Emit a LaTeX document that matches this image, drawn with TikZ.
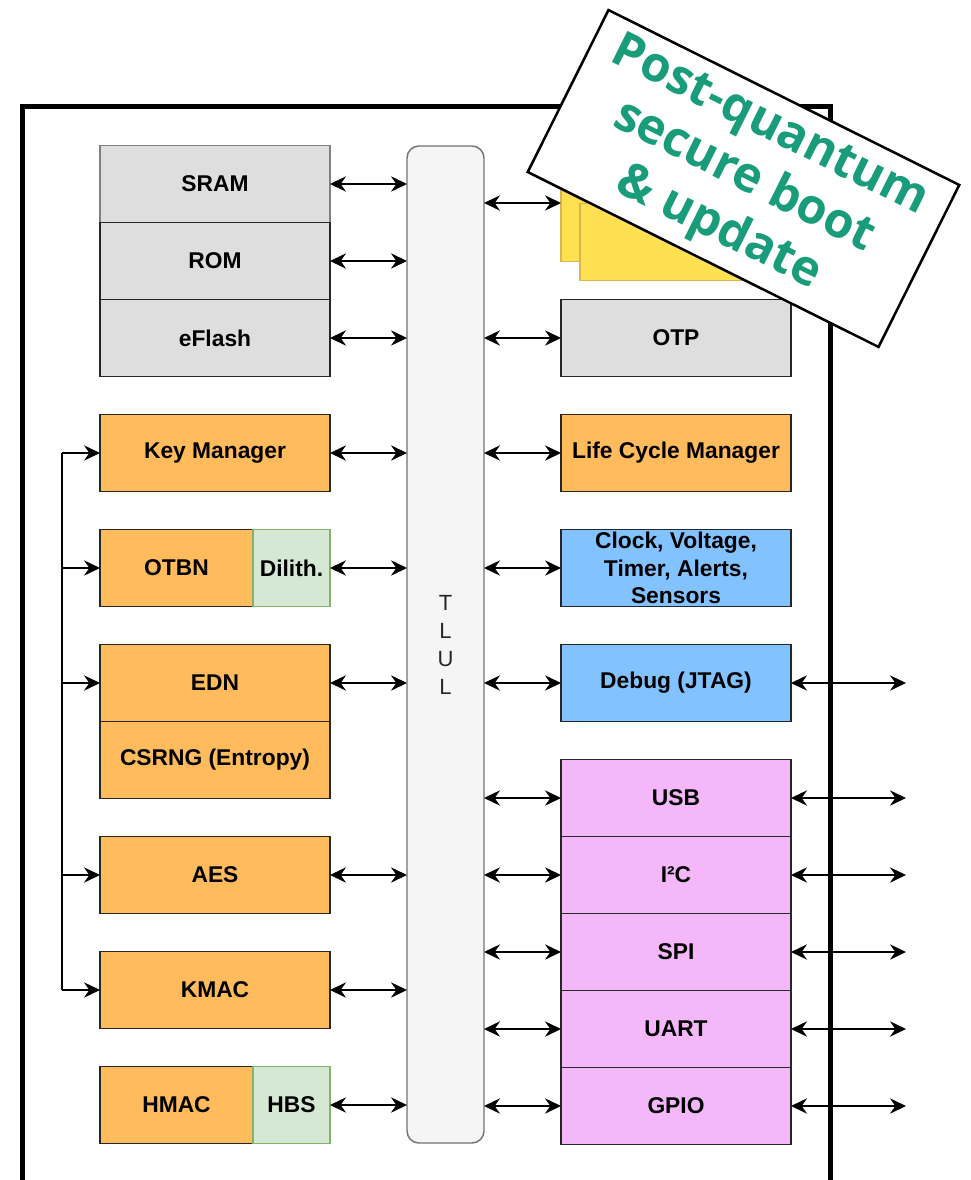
\documentclass[tikz,border=0pt]{standalone}
\usepackage{fontspec}
\setmainfont{Liberation Sans}
\newfontfamily\pqfont{Open Sans}
\usetikzlibrary{positioning,arrows.meta}
\definecolor{memgray}{RGB}{222,222,222}
\definecolor{iporange}{RGB}{255,187,92}
\definecolor{pqcgreen}{RGB}{213,232,212}
\definecolor{pqcedge}{RGB}{130,179,102}
\definecolor{sysblue}{RGB}{130,195,255}
\definecolor{periphpink}{RGB}{244,184,250}
\definecolor{imgyellow}{RGB}{255,224,80}
\definecolor{imgedge}{RGB}{214,182,86}
\definecolor{pqteal}{RGB}{24,156,122}
\tikzset{
    >={Stealth[length=12pt,width=11.5pt,inset=4pt]},
    block/.style = {draw=black!85, line width=1.1pt, minimum width=172.5pt,
        minimum height=57.75pt, inner sep=2pt, outer sep=0pt, align=center,
        font=\fontsize{17.1}{20.6}\selectfont\bfseries},
    mem/.style = {block, fill=memgray},
    ip/.style = {block, fill=iporange},
    half/.style = {minimum width=114.75pt},
    pqc/.style = {block, fill=pqcgreen, draw=pqcedge, minimum width=57.75pt},
    sys/.style = {block, fill=sysblue},
    periph/.style = {block, fill=periphpink},
    fwimg/.style = {block, fill=imgyellow, draw=imgedge},
    tlbus/.style = {draw=black!55, fill=black!4, line width=1.1pt, rounded corners=9pt,
        minimum width=57.75pt, minimum height=747.75pt, outer sep=0pt, align=center,
        text=black!85, font=\fontsize{16.5}{21}\selectfont},
    link/.style = {<->, line width=1.1pt},
    chip/.style = {line width=3.75pt},
    pqlabel/.style = {draw, fill=white, line width=1.9pt, minimum width=294pt,
        minimum height=135.75pt, inner sep=0pt, text=pqteal,
        font=\pqfont\bfseries\fontsize{36.5}{42.75}\selectfont},
}
\newcommand{\gap}{28.5pt}

\begin{document}
\begin{tikzpicture}[x=0.75pt, y=-0.75pt]
    \useasboundingbox (0,0) rectangle (970,1180);

    \draw[chip] (22,107) rectangle (830,1183);

    % TileLink bus
    \node[tlbus] (tlul) at (445.5,644.5) {T\\L\\U\\L};

    % left column
    \node[mem, draw=black!50] (sram) at (215,184) {SRAM};
    \node[mem, below=0pt of sram] (rom) {ROM};
    \node[mem, below=0pt of rom] (eflash) {eFlash};
    \node[ip, below=\gap of eflash] (keymgr) {Key Manager};
    \node[ip, half, below=\gap of keymgr.south west, anchor=north west] (otbn) {OTBN};
    \node[pqc, right=0pt of otbn] (dilith) {Dilith.};
    \node[ip, below=\gap of otbn.south west, anchor=north west] (edn) {EDN};
    \node[ip, below=0pt of edn] (csrng) {CSRNG (Entropy)};
    \node[ip, below=\gap of csrng] (aes) {AES};
    \node[ip, below=\gap of aes] (kmac) {KMAC};
    \node[ip, half, below=\gap of kmac.south west, anchor=north west] (hmac) {HMAC};
    \node[pqc, right=0pt of hmac] (hbs) {HBS};

    % right column
    \node[mem] (otp) at (676,338) {OTP};
    \node[fwimg, above=\gap of otp] (fwback) {};
    \node[fwimg] (fwfront) at ([shift={(19,19)}]fwback) {};
    \node[ip, below=\gap of otp] (lcm) {Life Cycle Manager};
    \node[sys, below=\gap of lcm, inner ysep=0pt] (clk) {Clock, Voltage,\\Timer, Alerts,\\Sensors};
    \node[sys, below=\gap of clk] (debug) {Debug (JTAG)};
    \node[periph, below=\gap of debug] (usb) {USB};
    \node[periph, below=0pt of usb] (i2c) {I²C};
    \node[periph, below=0pt of i2c] (spi) {SPI};
    \node[periph, below=0pt of spi] (uart) {UART};
    \node[periph, below=0pt of uart] (gpio) {GPIO};

    % bus connections
    \foreach \n in {sram,rom,eflash,keymgr,dilith,edn,aes,kmac,hbs}
        \draw[link] (\n.east) -- (\n.east -| tlul.west);
    \foreach \n in {otp,lcm,clk,debug,usb,i2c,spi,uart,gpio}
        \draw[link] (\n.west -| tlul.east) -- (\n.west);
    \draw[link] ([yshift=15pt]fwback.west -| tlul.east) -- ([yshift=15pt]fwback.west);

    % entropy distribution
    \coordinate (feed) at (62,0);
    \draw[line width=1.1pt] (feed |- keymgr.west) -- (feed |- kmac.west);
    \foreach \n in {keymgr,otbn,edn,aes,kmac}
        \draw[->, line width=1.1pt] (feed |- \n.west) -- (\n.west);

    % chip pins
    \coordinate (pin) at (906,0);
    \foreach \n in {debug,usb,i2c,spi,uart,gpio}
        \draw[link] (\n.east) -- (\n.east -| pin);

    \node[pqlabel, rotate=-26.5] (pq) at (743.5,178.5)
        {\raisebox{-11pt}{\begin{tabular}{@{}c@{}}Post-quantum\\secure boot\\\& update\end{tabular}}};
\end{tikzpicture}
\end{document}
